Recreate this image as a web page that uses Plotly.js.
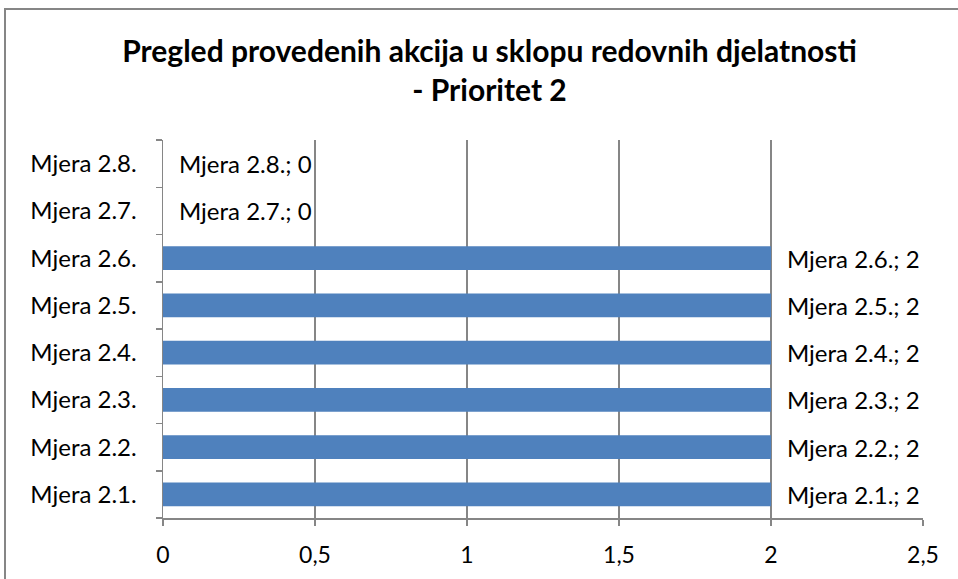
<!DOCTYPE html>
<html>
<head>
<meta charset="utf-8">
<script src="https://cdn.plot.ly/plotly-3.0.1.min.js"></script>
<style>html,body{margin:0;padding:0;background:#fff;}#chart{width:958px;height:579px;}</style>
</head>
<body>
<div id="chart"></div>
<script>
var categories = ["Mjera 2.1.", "Mjera 2.2.", "Mjera 2.3.", "Mjera 2.4.", "Mjera 2.5.", "Mjera 2.6.", "Mjera 2.7.", "Mjera 2.8."];
var values = [2, 2, 2, 2, 2, 2, 0, 0];
var tickVals = [0, 0.5, 1, 1.5, 2, 2.5];
var tickText = ["0", "0,5", "1", "1,5", "2", "2,5"];
var titleText = "<b>Pregled provedenih akcija u sklopu redovnih djelatnosti<br>- Prioritet 2</b>";

var FONT = "Lato, 'Open Sans', sans-serif";

var trace = {
  type: "bar",
  orientation: "h",
  x: values,
  y: categories,
  marker: {color: "#4F81BD"},
  hoverinfo: "x+y"
};

var annotations = categories.map(function(c, i) {
  return {
    x: values[i], y: c, xref: "x", yref: "y",
    text: c + "; " + values[i],
    showarrow: false, xanchor: "left", yanchor: "middle",
    xshift: 14,
    font: {family: FONT, size: 24, color: "#000"}
  };
});

var L = 163, R = 923, T = 140, B = 518;
var pw = R - L, ph = B - T;
function px(x) { return (x - L) / pw; }
function py(y) { return (B - y) / ph; }

var layout = {
  width: 958, height: 579,
  margin: {l: L, r: 958 - R, t: T, b: 579 - B},
  paper_bgcolor: "#fff", plot_bgcolor: "#fff",
  showlegend: false,
  bargap: 0.5,
  title: {
    text: titleText,
    font: {family: FONT, size: 30, color: "#000"},
    xref: "container", x: 0.511, xanchor: "center",
    yref: "container", y: 1 - 62 / 579, yanchor: "middle"
  },
  xaxis: {
    range: [0, 2.5],
    tickvals: tickVals, ticktext: tickText,
    showgrid: true, gridcolor: "#868686", gridwidth: 1.5,
    zeroline: false,
    showline: true, linecolor: "#868686", linewidth: 1.5,
    ticks: "outside", ticklen: 6, tickcolor: "#868686", tickwidth: 1.5,
    ticklabelstandoff: 10,
    tickfont: {family: FONT, size: 23, color: "#000"},
    fixedrange: true
  },
  yaxis: {
    type: "category",
    categoryorder: "array", categoryarray: categories,
    showgrid: false, zeroline: false,
    showline: true, linecolor: "#868686", linewidth: 1.5,
    ticks: "outside", ticklen: 6, tickcolor: "#868686", tickwidth: 1.5,
    tickson: "boundaries",
    ticklabelstandoff: 20,
    tickfont: {family: FONT, size: 24, color: "#000"},
    fixedrange: true
  },
  annotations: annotations,
  shapes: [{
    type: "rect", xref: "paper", yref: "paper",
    x0: px(5), x1: px(975), y0: py(600), y1: py(9),
    line: {color: "#868686", width: 2}, fillcolor: "rgba(0,0,0,0)", layer: "below"
  }]
};

Plotly.newPlot("chart", [trace], layout, {displayModeBar: false, staticPlot: true});
</script>
</body>
</html>
